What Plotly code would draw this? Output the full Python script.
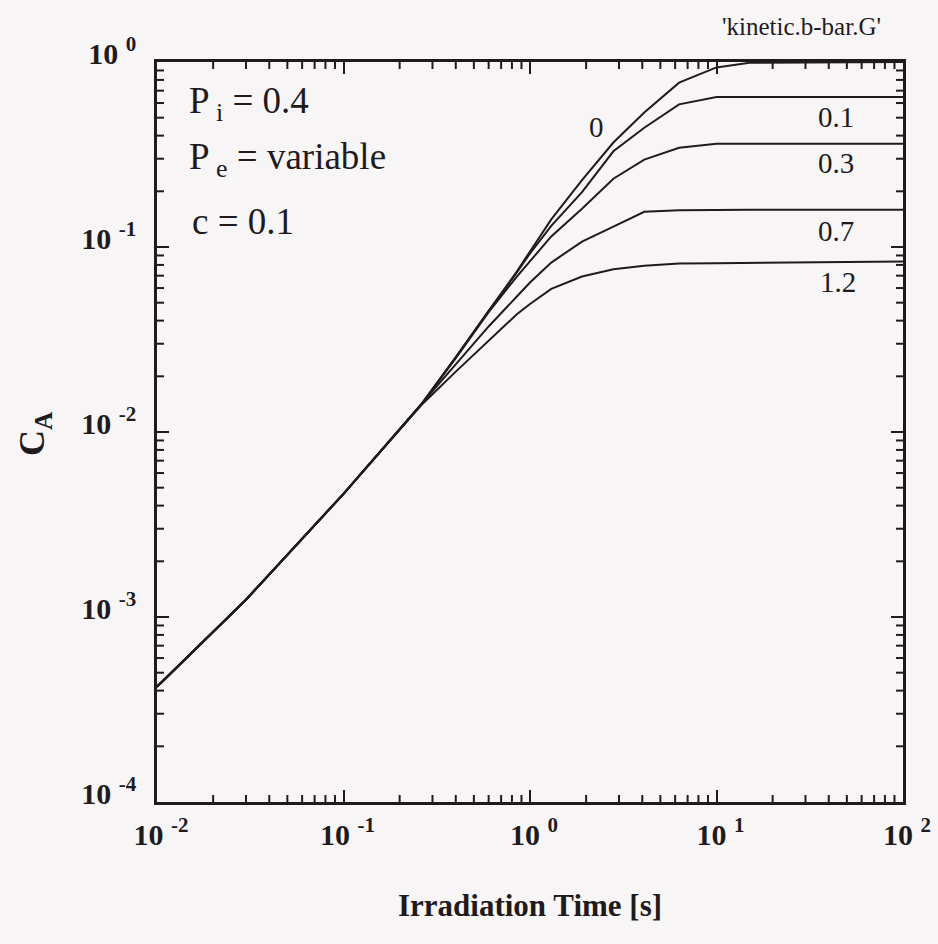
import plotly.graph_objects as go

# ---- data ----
time_s = [0.01, 0.03, 0.1, 0.26, 0.4, 0.6, 0.85, 1.0, 1.3, 1.9, 2.8, 4.1, 6.3, 10, 15, 100]

ca_pe_0   = [4.2e-4, 1.24e-3, 4.63e-3, 0.0140, 0.0254, 0.0454, 0.0736, 0.0946, 0.141, 0.230, 0.367, 0.533, 0.773, 0.935, 0.990, 1.0]
ca_pe_0_1 = [4.2e-4, 1.24e-3, 4.63e-3, 0.0140, 0.0253, 0.0452, 0.0728, 0.0923, 0.130, 0.198, 0.329, 0.441, 0.590, 0.647, 0.647, 0.647]
ca_pe_0_3 = [4.2e-4, 1.24e-3, 4.63e-3, 0.0140, 0.0251, 0.0445, 0.0692, 0.0839, 0.114, 0.161, 0.234, 0.297, 0.344, 0.361, 0.361, 0.361]
ca_pe_0_7 = [4.2e-4, 1.24e-3, 4.63e-3, 0.0140, 0.0233, 0.0372, 0.0540, 0.0643, 0.0824, 0.107, 0.129, 0.155, 0.158, 0.159, 0.159, 0.159]
ca_pe_1_2 = [4.2e-4, 1.24e-3, 4.63e-3, 0.0139, 0.0212, 0.0311, 0.0433, 0.0492, 0.0594, 0.0693, 0.0759, 0.0791, 0.0815, 0.0818, 0.0820, 0.0836]

series = [("0", ca_pe_0), ("0.1", ca_pe_0_1), ("0.3", ca_pe_0_3), ("0.7", ca_pe_0_7), ("1.2", ca_pe_1_2)]

x_tickvals = [0.01, 0.1, 1, 10, 100]
x_ticktext = ["10&nbsp;<sup>-2</sup>", "10&nbsp;<sup>-1</sup>", "10&nbsp;<sup>0</sup>", "10&nbsp;<sup>1</sup>", "10&nbsp;<sup>2</sup>"]
y_tickvals = [1e-4, 1e-3, 1e-2, 1e-1, 1]
y_ticktext = ["10&nbsp;<sup>-4</sup>", "10&nbsp;<sup>-3</sup>", "10&nbsp;<sup>-2</sup>", "10&nbsp;<sup>-1</sup>", "10&nbsp;<sup>0</sup>"]

x_minor = [m * 10.0 ** e for e in range(-2, 2) for m in range(2, 10)]
y_minor = [m * 10.0 ** e for e in range(-4, 0) for m in range(2, 10)]

# ---- figure ----
INK = "#1f1b1d"
BG = "#f7f5f6"
SERIF = "Liberation Serif"

W, H = 938, 944
L, R, T, B = 157, 35, 62, 142
PW, PH = W - L - R, H - T - B
MINOR_LEN = 7

def px(xpix):
    return (xpix - L) / PW

def py(ypix):
    return (H - B - ypix) / PH

fig = go.Figure()
for name, vals in series:
    fig.add_trace(go.Scatter(x=time_s, y=vals, mode="lines", name=name,
                             line=dict(color=INK, width=2), showlegend=False))

axis_common = dict(
    type="log", showgrid=False, zeroline=False,
    showline=True, linecolor=INK, linewidth=2.5, mirror="ticks",
    ticks="inside", ticklen=12, tickwidth=2, tickcolor=INK,
    tickfont=dict(family=SERIF, size=30, color=INK, weight="bold"),
    automargin=False,
)

fig.update_layout(
    xaxis=dict(range=[-2, 2], tickmode="array", tickvals=x_tickvals, ticktext=x_ticktext,
               ticklabelstandoff=4, ticklabelshift=4, **axis_common),
    yaxis=dict(range=[-4, 0], tickmode="array", tickvals=y_tickvals, ticktext=y_ticktext,
               ticklabelstandoff=12, ticklabelshift=-9, **axis_common),
)

# minor ticks (inside, on all four sides), positioned by the axes' own log scale
tick_line = dict(color=INK, width=2)
for v in x_minor:
    fig.add_shape(type="line", xref="x", yref="paper", x0=v, x1=v, y0=0, y1=MINOR_LEN / PH, line=tick_line)
    fig.add_shape(type="line", xref="x", yref="paper", x0=v, x1=v, y0=1, y1=1 - MINOR_LEN / PH, line=tick_line)
for v in y_minor:
    fig.add_shape(type="line", xref="paper", yref="y", x0=0, x1=MINOR_LEN / PW, y0=v, y1=v, line=tick_line)
    fig.add_shape(type="line", xref="paper", yref="y", x0=1, x1=1 - MINOR_LEN / PW, y0=v, y1=v, line=tick_line)

annots = [
    dict(text="P<sub> i</sub> = 0.4", x=px(187), y=py(103), xanchor="left", size=37),
    dict(text="P<sub> e</sub> = variable", x=px(187), y=py(159), xanchor="left", size=37),
    dict(text="c = 0.1", x=px(190), y=py(221), xanchor="left", size=37),
    dict(text="0", x=px(596), y=py(127), xanchor="center", size=29),
    dict(text="0.1", x=px(836), y=py(117), xanchor="center", size=29),
    dict(text="0.3", x=px(836), y=py(163), xanchor="center", size=29),
    dict(text="0.7", x=px(836), y=py(231), xanchor="center", size=29),
    dict(text="1.2", x=px(838), y=py(282), xanchor="center", size=29),
    dict(text="'kinetic.b-bar.G'", x=px(801), y=py(27), xanchor="center", size=25),
]
for a in annots:
    fig.add_annotation(text=a["text"], x=a["x"], y=a["y"], xref="paper", yref="paper",
                       xanchor=a["xanchor"], yanchor="middle", showarrow=False,
                       font=dict(family=SERIF, size=a["size"], color=INK))

# axis titles
fig.add_annotation(text="Irradiation Time [s]", x=px(530), y=py(906), xref="paper", yref="paper",
                   xanchor="center", yanchor="middle", showarrow=False,
                   font=dict(family=SERIF, size=31, color=INK, weight="bold"))
fig.add_annotation(text="C<sub>A</sub>", x=px(34), y=py(434), xref="paper", yref="paper",
                   xanchor="center", yanchor="middle", showarrow=False, textangle=-90,
                   font=dict(family=SERIF, size=36, color=INK, weight="bold"))

fig.update_layout(width=W, height=H, margin=dict(l=L, r=R, t=T, b=B),
                  paper_bgcolor=BG, plot_bgcolor=BG, showlegend=False)

fig.write_html("out.html")
